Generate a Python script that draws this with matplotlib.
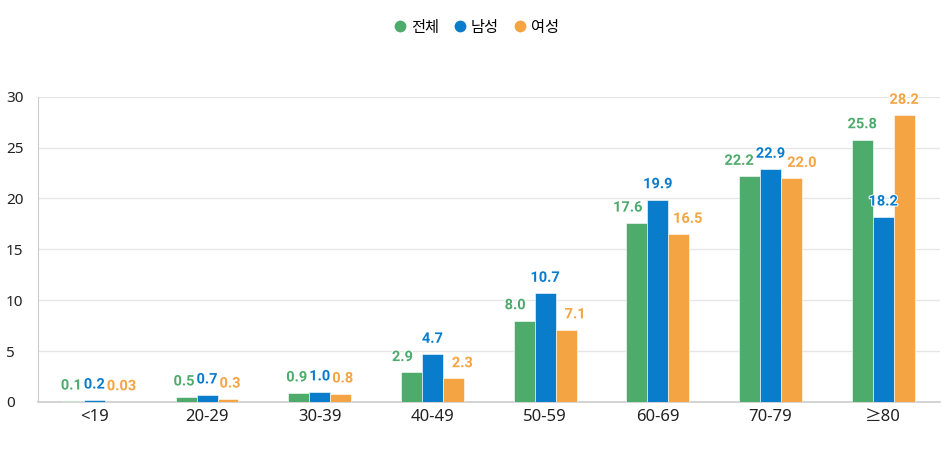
import numpy as np
import matplotlib
matplotlib.use('Agg')
import matplotlib.pyplot as plt
import matplotlib.patheffects as pe
from matplotlib.lines import Line2D

plt.rcParams['font.family'] = ['Noto Sans', 'Noto Sans CJK KR', 'DejaVu Sans']

categories = ['<19', '20-29', '30-39', '40-49', '50-59', '60-69', '70-79', '≥80']
total = [0.1, 0.5, 0.9, 2.9, 8.0, 17.6, 22.2, 25.8]
male = [0.2, 0.7, 1.0, 4.7, 10.7, 19.9, 22.9, 18.2]
female = [0.03, 0.3, 0.8, 2.3, 7.1, 16.5, 22.0, 28.2]
total_lbl = ['0.1', '0.5', '0.9', '2.9', '8.0', '17.6', '22.2', '25.8']
male_lbl = ['0.2', '0.7', '1.0', '4.7', '10.7', '19.9', '22.9', '18.2']
female_lbl = ['0.03', '0.3', '0.8', '2.3', '7.1', '16.5', '22.0', '28.2']
names = ['전체', '남성', '여성']
colors = ['#4dab6c', '#0a7ccc', '#f5a443']

fig = plt.figure(figsize=(9.5, 4.7), dpi=100)
ax = fig.add_axes([0.04, 0.145, 0.949, 0.649])

x = np.arange(len(categories))
w = 0.186
series = [total, male, female]
labels = [total_lbl, male_lbl, female_lbl]
anns = []
for i, (vals, lbls, c) in enumerate(zip(series, labels, colors)):
    pos = x + (i - 1) * w
    ax.bar(pos, vals, w, color=c, edgecolor='white', linewidth=0.4, zorder=3)
    row = []
    for j, (px, v, t) in enumerate(zip(pos, vals, lbls)):
        # side labels move outward when the middle bar stands above them
        dx = 0
        if i != 1 and male[j] - v > 0.5:
            dx = (i - 1) * 6.5
        a = ax.annotate(t, (px, v), xytext=(dx, 11), textcoords='offset points',
                        ha='center', va='center', color=c, fontsize=10.5,
                        family=['Roboto', 'DejaVu Sans'], fontweight='bold',
                        zorder=6 - i,
                        path_effects=[pe.withStroke(linewidth=1.5, foreground='white')])
        row.append(a)
    anns.append(row)

ax.set_xlim(-0.5, len(categories) - 0.5)
ax.set_ylim(0, 30)
ax.set_yticks([0, 5, 10, 15, 20, 25, 30])
ax.set_xticks(x)
ax.set_xticklabels(categories)
ax.tick_params(axis='x', length=0, labelsize=12, pad=5, colors='#222222')
ax.tick_params(axis='y', length=0, labelsize=11, pad=23, colors='#222222')
for lbl in ax.get_yticklabels():
    lbl.set_horizontalalignment('left')
ax.grid(axis='y', color='#e6e6e6', linewidth=1, zorder=0)
for s in ['top', 'right']:
    ax.spines[s].set_visible(False)
ax.spines['left'].set_color('#cccccc')
ax.spines['bottom'].set_color('#cccccc')
ax.spines['bottom'].set_linewidth(1.2)

handles = [Line2D([0], [0], marker='o', color='w', markerfacecolor=c,
                  markersize=9.5) for c in colors]
fig.legend(handles, names, loc='center', bbox_to_anchor=(0.5, 0.94),
           ncol=3, frameon=False, fontsize=11, handletextpad=0.1,
           columnspacing=0.8, handlelength=1.2)

# push side labels apart from the middle label if they still touch
fig.canvas.draw()
r = fig.canvas.get_renderer()
for j in range(len(categories)):
    mb = anns[1][j].get_window_extent(r)
    for i in (0, 2):
        a = anns[i][j]
        b = a.get_window_extent(r)
        if b.y1 < mb.y0 or b.y0 > mb.y1:
            continue
        if i == 0 and b.x1 > mb.x0 - 2:
            shift = -(b.x1 - mb.x0 + 2)
        elif i == 2 and b.x0 < mb.x1 + 2:
            shift = mb.x1 + 2 - b.x0
        else:
            continue
        dx, dy = a.xyann
        a.xyann = (dx + shift * 72 / fig.dpi, dy)

fig.savefig('out.png', dpi=100)
